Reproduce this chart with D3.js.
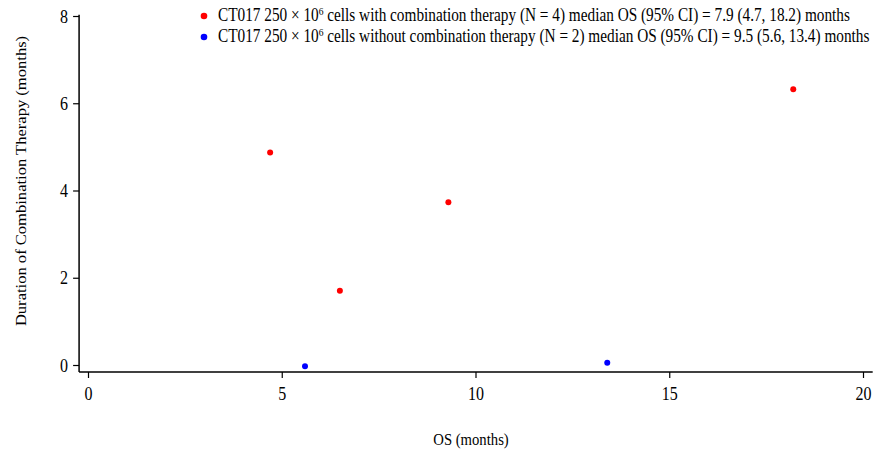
<!DOCTYPE html>
<html>
<head>
    <meta charset="utf-8">
    <title>os-vs-duration</title>
    <style>
        body { margin: 0; background: #fff; }
        text { font-family: "Liberation Serif", "Times New Roman", serif; }
    </style>
</head>
<body>
<main></main>
<script src="https://cdn.jsdelivr.net/npm/d3@7/dist/d3.min.js"></script>
<script>
    // data
    var withOS = [4.7, 6.5, 9.3, 18.2];
    var withDur = [4.87, 1.70, 3.73, 6.32];
    var withoutOS = [5.6, 13.4];
    var withoutDur = [-0.03, 0.05];
    var xTicks = [0, 5, 10, 15, 20];
    var yTicks = [0, 2, 4, 6, 8];
    var legendLabels = [
        "with combination therapy (N = 4) median OS (95% CI) = 7.9 (4.7, 18.2) months",
        "without combination therapy (N = 2) median OS (95% CI) = 9.5 (5.6, 13.4) months"
    ];
    var colors = ["#ff0000", "#0000ff"];

    var width = 877;
    var height = 450;
    var stretch = 1.2; // the original looks a bit taller than wide
    var svg = d3.select("main")
        .append("svg")
        .attr("width", width)
        .attr("height", height);

    var x = d3.scaleLinear().domain([0, 20]).range([88, 863]);
    var y = d3.scaleLinear().domain([0, 8]).range([365, 16]);

    // axes (R style: lines offset from the data range)
    var xAxis = svg.append("g")
        .attr("transform", "translate(0," + y(-0.16) + ")")
        .call(d3.axisBottom(x).tickValues(xTicks).tickSize(6).tickSizeOuter(0).tickPadding(6));
    xAxis.select(".domain").remove();
    xAxis.append("line")
        .attr("x1", x(-0.23)).attr("x2", x(20.25))
        .attr("stroke", "#000").attr("stroke-width", 1.5);

    var yAxis = svg.append("g")
        .attr("transform", "translate(" + x(-0.23) + ",0)")
        .call(d3.axisLeft(y).tickValues(yTicks).tickSize(6).tickSizeOuter(0).tickPadding(5));
    yAxis.select(".domain").remove();
    yAxis.append("line")
        .attr("y1", y(8.03)).attr("y2", y(-0.16))
        .attr("stroke", "#000").attr("stroke-width", 1.5);

    svg.selectAll(".tick line").attr("stroke-width", 1.2);
    svg.selectAll(".tick text")
        .attr("font-size", 16)
        .attr("fill", "#000")
        .attr("transform", "scale(1," + stretch + ")")
        .style("font-family", "Liberation Serif, serif");

    // points
    var series = [
        { os: withOS, dur: withDur, color: colors[0] },
        { os: withoutOS, dur: withoutDur, color: colors[1] }
    ];
    series.forEach(function (s) {
        svg.append("g").selectAll("circle")
            .data(s.os)
            .enter()
            .append("circle")
            .attr("cx", function (d) { return x(d); })
            .attr("cy", function (d, i) { return y(s.dur[i]); })
            .attr("r", 3)
            .attr("fill", s.color);
    });

    // legend
    var legend = svg.append("g").attr("transform", "translate(204,16)");
    legendLabels.forEach(function (lab, i) {
        var row = legend.append("g").attr("transform", "translate(0," + (i * 21) + ")");
        row.append("circle").attr("r", 3.3).attr("fill", colors[i]);
        var t = row.append("text")
            .attr("transform", "translate(14,5) scale(1," + stretch + ")")
            .attr("font-size", 15.3);
        t.append("tspan").text("CT017 250 \u00d7 10");
        t.append("tspan").attr("dy", -5).attr("font-size", 9.5).text("6");
        t.append("tspan").attr("dy", 5).text(" cells " + lab);
    });

    // axis titles
    svg.append("text")
        .attr("transform", "translate(471,445) scale(1," + stretch + ")")
        .attr("text-anchor", "middle")
        .attr("font-size", 14.7)
        .text("OS (months)");

    svg.append("text")
        .attr("transform", "translate(26,181) scale(1," + stretch + ") rotate(-90)")
        .attr("text-anchor", "middle")
        .attr("font-size", 13.8)
        .text("Duration of Combination Therapy (months)");
</script>
</body>
</html>
